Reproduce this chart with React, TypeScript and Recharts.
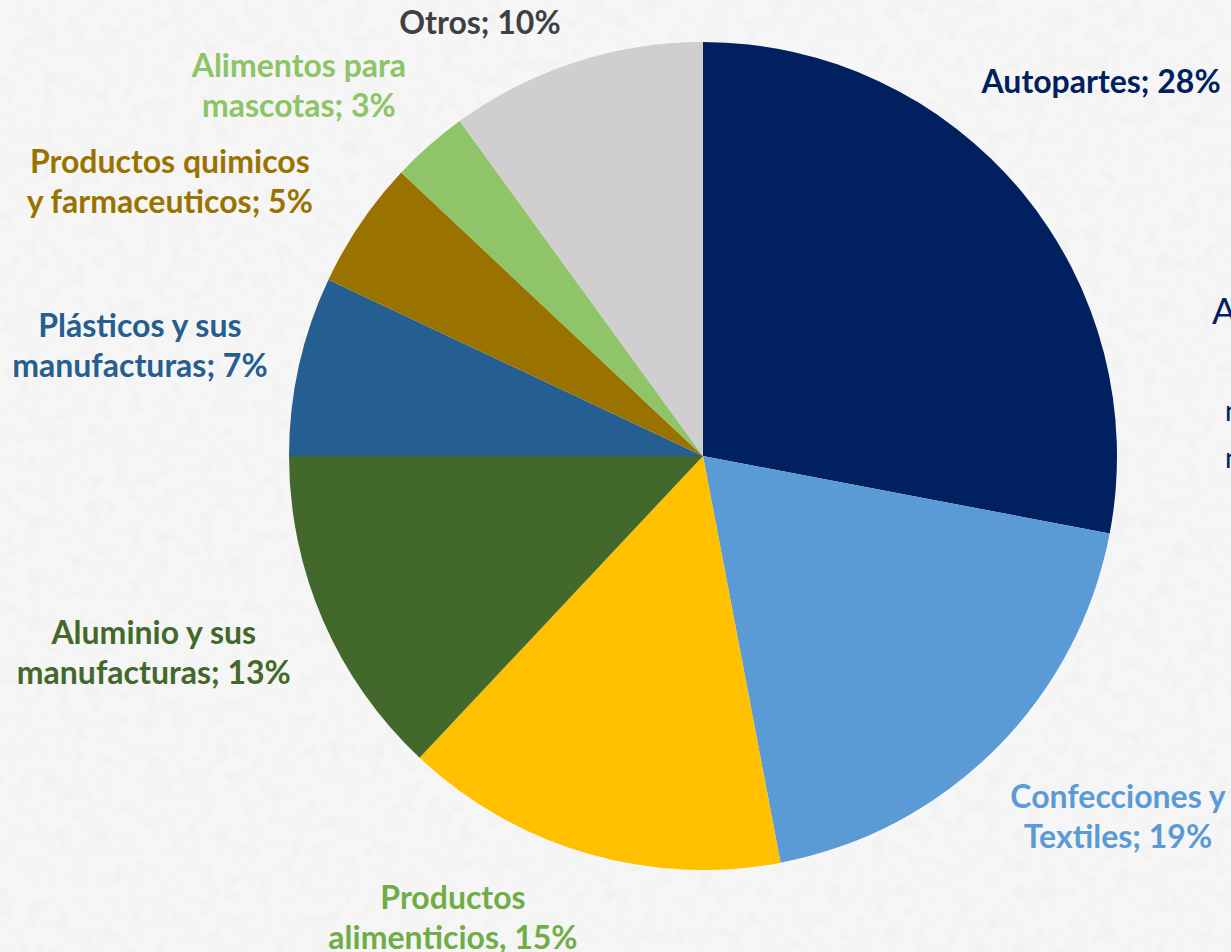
import { PieChart, Pie, Cell } from 'recharts';

const CATEGORIES = [
    'Autopartes',
    'Confecciones y Textiles',
    'Productos alimenticios',
    'Aluminio y sus manufacturas',
    'Plásticos y sus manufacturas',
    'Productos quimicos y farmaceuticos',
    'Alimentos para mascotas',
    'Otros',
];

const SHARES = [28, 19, 15, 13, 7, 5, 3, 10];

// how each label is broken into lines, as in the original
const LABEL_LINES = [
    ['Autopartes; 28%'],
    ['Confecciones y', 'Textiles; 19%'],
    ['Productos', 'alimenticios, 15%'],
    ['Aluminio y sus', 'manufacturas; 13%'],
    ['Plásticos y sus', 'manufacturas; 7%'],
    ['Productos quimicos', 'y farmaceuticos; 5%'],
    ['Alimentos para', 'mascotas; 3%'],
    ['Otros; 10%'],
];

const SLICE_COLORS = ['#002060', '#5b9bd5', '#ffc000', '#43682b', '#255e91', '#9a7200', '#8fc468', '#d0cece'];
const TEXT_COLORS = ['#002060', '#5b9bd5', '#70ad47', '#43682b', '#255e91', '#997300', '#8cc466', '#404040'];

// label placement: angle nudge (deg, clockwise) and distance from centre
const LABEL_LAYOUT = [
    { nudge: -3.7, dist: 547 },
    { nudge: -4.1, dist: 549 },
    { nudge: 12.3, dist: 524 },
    { nudge: 3.8, dist: 583 },
    { nudge: -1.4, dist: 574 },
    { nudge: -6.9, dist: 600 },
    { nudge: -6, dist: 549 },
    { nudge: -9.2, dist: 488 },
];

const data = CATEGORIES.map((name, i) => ({ name, value: SHARES[i] }));

const FONT = 'Lato, "Open Sans", sans-serif';

function renderLabel(props: any) {
    const { cx, cy, midAngle, index } = props;
    const lay = LABEL_LAYOUT[index];
    const theta = ((90 - midAngle + lay.nudge) * Math.PI) / 180;
    const x = cx + lay.dist * Math.sin(theta);
    const y = cy - lay.dist * Math.cos(theta);
    const lines = LABEL_LINES[index];
    const gap = 40;
    const top = y - ((lines.length - 1) * gap) / 2;
    return (
        <text
            key={`lbl-${index}`}
            x={x}
            y={y}
            textAnchor="middle"
            fill={TEXT_COLORS[index]}
            fontFamily={FONT}
            fontWeight={700}
            fontSize={32}
        >
            {lines.map((l, j) => (
                <tspan key={j} x={x} y={top + j * gap} dominantBaseline="central">
                    {l}
                </tspan>
            ))}
        </text>
    );
}

export default function App() {
    return (
        <div style={{ position: 'absolute', left: 0, top: 0, width: 1231, height: 952, overflow: 'hidden' }}>
            <svg width={1231} height={952} style={{ position: 'absolute', left: 0, top: 0 }}>
                <defs>
                    <filter id="paper" x="0" y="0" width="100%" height="100%">
                        <feTurbulence type="fractalNoise" baseFrequency="0.07" numOctaves={4} seed={3} />
                        <feColorMatrix
                            type="matrix"
                            values="0 0 0 0 0.55  0 0 0 0 0.55  0 0 0 0 0.55  0 0 0 -0.9 0.5"
                        />
                    </filter>
                </defs>
                <rect width={1231} height={952} fill="#f6f6f6" />
                <rect width={1231} height={952} filter="url(#paper)" opacity={0.25} />
                <text x={1212} y={324} fontFamily={FONT} fontSize={36} fill="#002060">A</text>
                <text x={1225} y={421} fontFamily={FONT} fontSize={28} fill="#002060">n</text>
                <text x={1225} y={468} fontFamily={FONT} fontSize={28} fill="#002060">n</text>
            </svg>
            <div style={{ position: 'absolute', left: 0, top: 0 }}>
                <PieChart width={1231} height={952} margin={{ top: 0, right: 0, bottom: 0, left: 0 }}>
                    <Pie
                        data={data}
                        dataKey="value"
                        nameKey="name"
                        cx={703}
                        cy={456}
                        outerRadius={414}
                        startAngle={90}
                        endAngle={-270}
                        stroke="none"
                        label={renderLabel}
                        labelLine={false}
                        isAnimationActive={false}
                    >
                        {data.map((d, i) => (
                            <Cell key={d.name} fill={SLICE_COLORS[i]} />
                        ))}
                    </Pie>
                </PieChart>
            </div>
        </div>
    );
}
